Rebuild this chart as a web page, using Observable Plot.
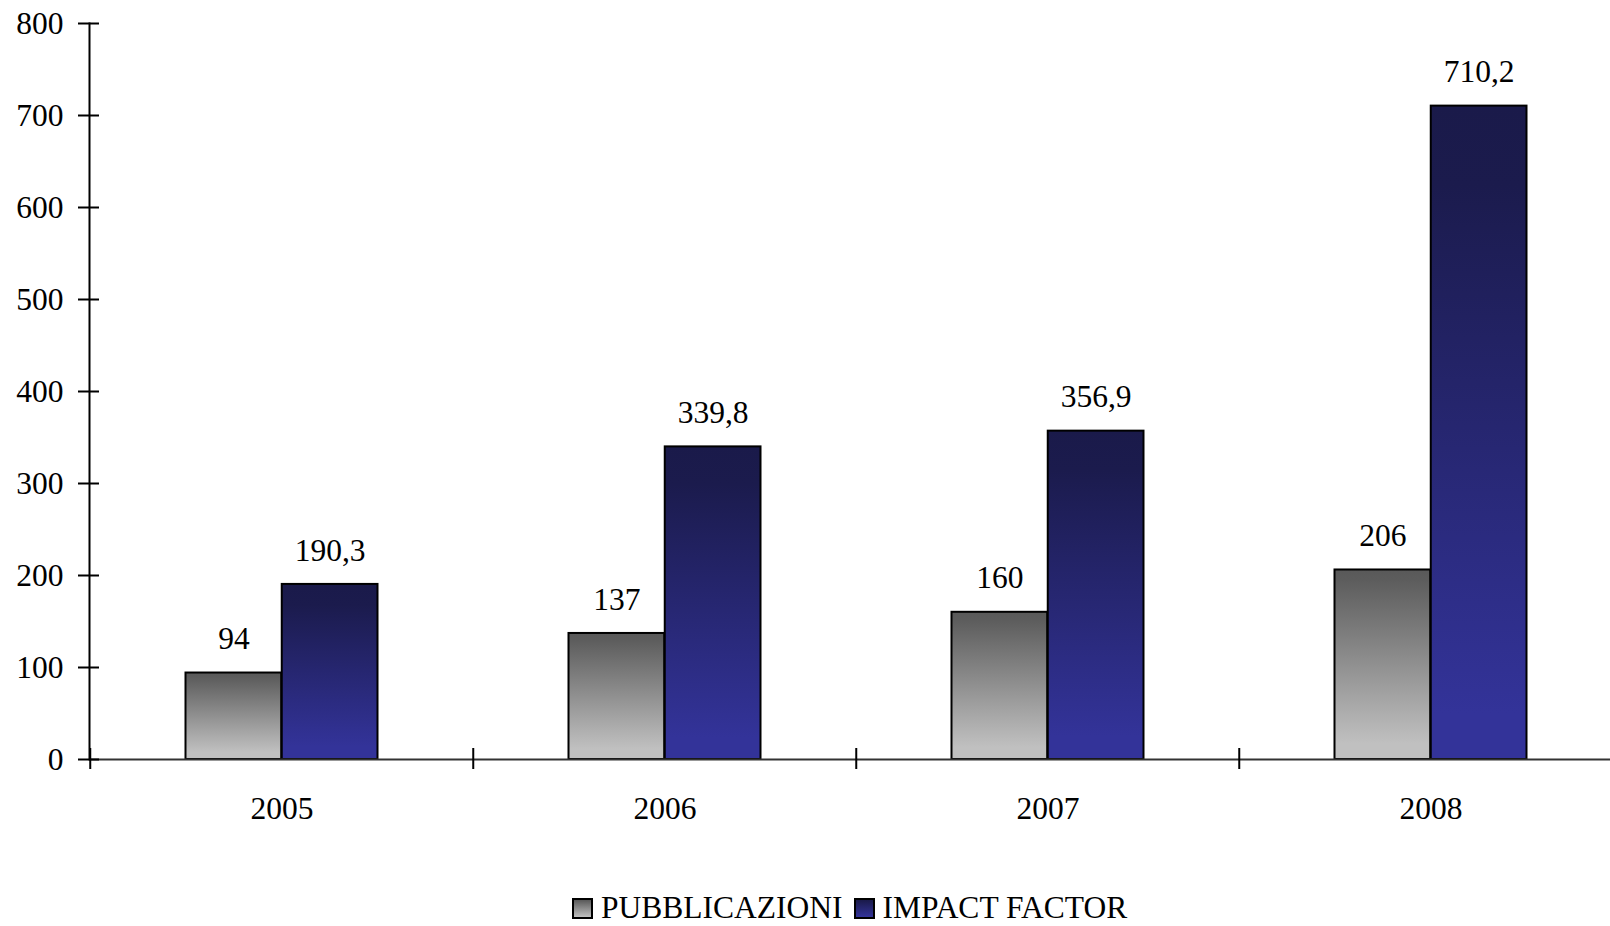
<!DOCTYPE html>
<html>
<head>
<meta charset="utf-8">
<script src="https://cdn.jsdelivr.net/npm/d3@7"></script>
<script src="https://cdn.jsdelivr.net/npm/@observablehq/plot@0.6"></script>
<style>
  html, body { margin: 0; padding: 0; background: #fff; }
  #wrap { position: relative; width: 1610px; height: 926px; font-family: "Liberation Serif", "Times New Roman", serif; }
  #legend { position: absolute; left: 572px; top: 894px; display: flex; align-items: center; font-size: 31.5px; line-height: 28px; height: 28px; color: #000; white-space: nowrap; }
  .sw { width: 17px; height: 17px; border: 2px solid #000; margin-right: 8px; flex: none; }
  .item { display: flex; align-items: center; margin-right: 11px; }
</style>
</head>
<body>
<div id="wrap"><div id="chart"></div><div id="legend"></div></div>
<script>
const years = ["2005", "2006", "2007", "2008"];
const pubblicazioni = [94, 137, 160, 206];
const impactFactor = [190.3, 339.8, 356.9, 710.2];
const seriesNames = ["PUBBLICAZIONI", "IMPACT FACTOR"];
const yTicks = [0, 100, 200, 300, 400, 500, 600, 700, 800];

const pubData = years.map((y, i) => ({year: y, value: pubblicazioni[i]}));
const ifData = years.map((y, i) => ({year: y, value: impactFactor[i]}));

const W = 1610, H = 880;
const xRange = [89, 1623];
const band = (xRange[1] - xRange[0]) / years.length;
const barW = 96.25;
const outer = band / 2 - barW;   // inset on outer side
const inner = band / 2;          // inset on inner side
const FS = 31.5;

const fmt = v => String(v).replace(".", ",");
const font = "'Liberation Serif', 'Times New Roman', serif";

function defs() {
  const ns = "http://www.w3.org/2000/svg";
  const d = document.createElementNS(ns, "defs");
  d.innerHTML = `
    <linearGradient id="gGray" x1="0" y1="0" x2="0" y2="1">
      <stop offset="0" stop-color="#595959"/>
      <stop offset="0.05" stop-color="#5c5c5c"/>
      <stop offset="0.92" stop-color="#c0c0c0"/>
      <stop offset="1" stop-color="#c0c0c0"/>
    </linearGradient>
    <linearGradient id="gBlue" x1="0" y1="0" x2="0" y2="1">
      <stop offset="0" stop-color="#1a1a4a"/>
      <stop offset="0.12" stop-color="#1b1b4d"/>
      <stop offset="0.93" stop-color="#333399"/>
      <stop offset="1" stop-color="#333399"/>
    </linearGradient>`;
  return d;
}

const chart = Plot.plot({
  width: W,
  height: H,
  marginLeft: 89,
  marginRight: 0,
  marginTop: 23,
  marginBottom: H - 759,
  style: {fontFamily: font, fontSize: FS + "px", color: "#000", background: "#fff", overflow: "visible"},
  x: {domain: years, range: xRange, paddingInner: 0, paddingOuter: 0, axis: null},
  y: {domain: [0, 800], axis: null},
  marks: [
    defs,
    Plot.barY(pubData, {x: "year", y: "value", fill: "url(#gGray)", stroke: "#000", strokeWidth: 2, insetLeft: outer, insetRight: inner}),
    Plot.barY(ifData, {x: "year", y: "value", fill: "url(#gBlue)", stroke: "#000", strokeWidth: 2, insetLeft: inner, insetRight: outer}),
    Plot.text(pubData, {x: "year", y: "value", text: d => fmt(d.value), dx: -barW / 2, dy: -34, fontSize: FS, fill: "#000"}),
    Plot.text(ifData, {x: "year", y: "value", text: d => fmt(d.value), dx: barW / 2, dy: -34, fontSize: FS, fill: "#000"}),
    Plot.ruleY([0], {stroke: "#333", strokeWidth: 2}),
    Plot.frame({anchor: "left", stroke: "#000", strokeWidth: 2}),
    Plot.axisY({ticks: yTicks, tickSize: 21, dx: 10, tickPadding: 15, tickFormat: d => String(d), label: null, fontSize: FS, stroke: "#000", strokeWidth: 2}),
    Plot.axisX({tickSize: 21, dy: -11, dx: -band / 2, text: null, label: null, stroke: "#000", strokeWidth: 2}),
    Plot.axisX({tickSize: 0, tickPadding: 37, label: null, fontSize: FS})
  ]
});
document.getElementById("chart").appendChild(chart);

const legendColors = ["linear-gradient(#595959, #c0c0c0)", "linear-gradient(#1a1a4a, #333399)"];
const lg = document.getElementById("legend");
seriesNames.forEach((name, i) => {
  const it = document.createElement("div");
  it.className = "item";
  const sw = document.createElement("div");
  sw.className = "sw";
  sw.style.background = legendColors[i];
  const t = document.createElement("span");
  t.textContent = name;
  it.appendChild(sw); it.appendChild(t);
  lg.appendChild(it);
});
</script>
</body>
</html>
